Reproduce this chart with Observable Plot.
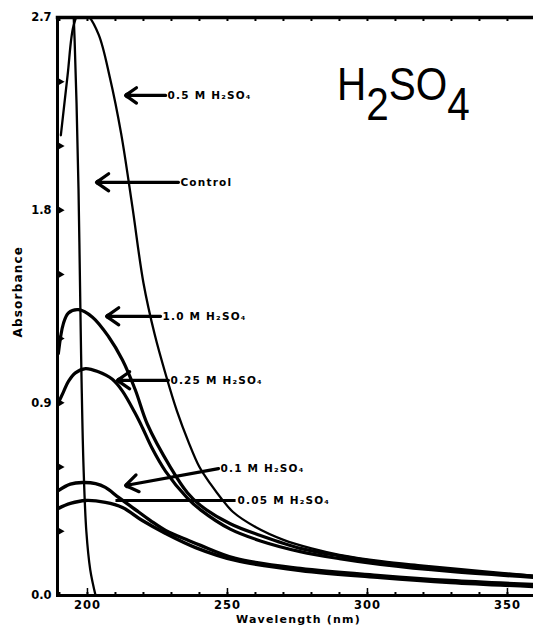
<!DOCTYPE html>
<html><head><meta charset="utf-8">
<script src="https://cdn.jsdelivr.net/npm/d3@7"></script>
<script src="https://cdn.jsdelivr.net/npm/@observablehq/plot@0.6"></script>
<style>
html,body{margin:0;padding:0;background:#fff;overflow:hidden}
#wrap{position:relative;width:533px;height:636px}
#title{position:absolute;left:337px;top:61px;font-family:"Liberation Sans",Arial,sans-serif;font-size:46px;line-height:46px;color:#000;white-space:nowrap;transform:scaleX(0.88);transform-origin:0 0}
#title .sub{position:relative;top:20px}
svg g[aria-label="text"] text{letter-spacing:1.2px}
svg g[aria-label="x-axis tick label"] text{letter-spacing:1px}
</style></head><body>
<div id="wrap"><div id="title">H<span class="sub">2</span>SO<span class="sub">4</span></div></div>
<script>
// ---- data ----
const xDomain = [189.3, 359.3];
const yDomain = [0, 2.7];
const xTickLabels = [200, 250, 300, 350];
const xMinorTicks = [190,200,210,220,230,240,250,260,270,280,290,300,310,320,330,340,350];
const yTickLabels = [0, 0.9, 1.8, 2.7];
const yMinorTicks = [0.3, 0.6, 0.9, 1.2, 1.5, 1.8, 2.1, 2.4];

const seriesNames = ["0.5 M", "Control", "1.0 M", "0.25 M", "0.1 M", "0.05 M"];

const nm_05 = [190.5, 192.9, 195.0, 197.0, 200.0, 204, 208, 212, 216, 220, 224, 228, 232, 236, 240, 244, 248, 252, 260, 270, 280, 290, 305, 320, 340, 359.3];
const abs_05 = [2.15, 2.43, 2.66, 2.72, 2.71, 2.62, 2.42, 2.16, 1.82, 1.46, 1.22, 1.03, 0.86, 0.72, 0.60, 0.52, 0.45, 0.39, 0.32, 0.26, 0.22, 0.19, 0.16, 0.14, 0.115, 0.093];

const nm_ctl = [194.6, 195.4, 196.1, 196.8, 197.4, 197.9, 198.6, 199.6, 201.0, 202.9];
const abs_ctl = [2.85, 2.6, 2.3, 1.9, 1.4, 1.0, 0.6, 0.3, 0.12, 0.0];

const nm_10 = [189.6, 191.4, 193.2, 196.8, 201.8, 207.5, 212.5, 217.1, 221.4, 229.6, 235.7, 240.4, 251, 261.8, 276, 290, 304.6, 329.6, 359.3];
const abs_10 = [1.13, 1.27, 1.32, 1.335, 1.30, 1.21, 1.10, 0.96, 0.80, 0.60, 0.48, 0.42, 0.335, 0.28, 0.22, 0.185, 0.155, 0.12, 0.09];

const nm_025 = [189.6, 191.4, 193.2, 195.7, 199.3, 203.9, 208.9, 212.5, 217.1, 219.6, 223, 227.9, 235.7, 240.4, 251, 261.8, 276, 290, 304.6, 329.6, 359.3];
const abs_025 = [0.90, 0.95, 1.00, 1.04, 1.06, 1.045, 1.01, 0.955, 0.85, 0.785, 0.69, 0.58, 0.455, 0.40, 0.31, 0.255, 0.205, 0.172, 0.145, 0.112, 0.085];

const nm_01 = [189.6, 193.9, 198.2, 202.9, 206.4, 211.1, 216.1, 222.5, 227.9, 236.1, 240.4, 252.9, 276, 304.6, 329.6, 359.3];
const abs_01 = [0.49, 0.52, 0.528, 0.523, 0.505, 0.458, 0.411, 0.35, 0.304, 0.257, 0.234, 0.173, 0.126, 0.093, 0.07, 0.051];

const nm_005 = [189.6, 193.9, 199.3, 206.4, 212.5, 219.6, 227.9, 238.6, 252.9, 276, 304.6, 329.6, 359.3];
const abs_005 = [0.407, 0.43, 0.444, 0.435, 0.411, 0.35, 0.29, 0.224, 0.164, 0.117, 0.084, 0.061, 0.042];

// label annotations
const labelText = ["0.5 M H₂SO₄", "Control", "1.0 M H₂SO₄", "0.25 M H₂SO₄", "0.1 M H₂SO₄", "0.05 M H₂SO₄"];
const labelTailX = [227.9, 232.5, 226.1, 228.9, 246.8, 252.9];
const labelTailY = [2.336, 1.93, 1.304, 1.005, 0.593, 0.444];
const labelTipX = [213.6, 203.2, 206.8, 210.7, 213.6, 210.0];
const labelTipY = [2.336, 1.93, 1.304, 1.005, 0.514, 0.444];
const labelHead = [true, true, true, true, true, false];

// ---- build tables ----
const seriesX = [nm_05, nm_ctl, nm_10, nm_025, nm_01, nm_005];
const seriesY = [abs_05, abs_ctl, abs_10, abs_025, abs_01, abs_005];
const seriesW = [2.3, 2.3, 3.2, 3.2, 3.4, 3.4];
const rows = seriesNames.map((s, i) => seriesX[i].map((x, j) => ({series: s, nm: x, abs: seriesY[i][j]})));
const labels = labelText.map((t, i) => ({t, x1: labelTailX[i], y1: labelTailY[i], x2: labelTipX[i], y2: labelTipY[i], head: labelHead[i]}));

const boldFont = "DejaVu Sans";
const chart = Plot.plot({
  width: 533,
  height: 636,
  marginLeft: 57,
  marginRight: 0,
  marginTop: 17,
  marginBottom: 41,
  style: {fontFamily: boldFont, background: "#fff", color: "#000"},
  x: {domain: xDomain, label: null},
  y: {domain: yDomain, label: null},
  marks: [
    ...rows.map((r, i) => Plot.line(r, {x: "nm", y: "abs", curve: "catmull-rom", stroke: "#000", strokeWidth: seriesW[i], clip: true})),
    Plot.arrow(labels.filter(d => d.head), {x1: "x1", y1: "y1", x2: "x2", y2: "y2", stroke: "#000", strokeWidth: 3.2, headLength: 7, headAngle: 70, bend: 0}),
    Plot.dot(labels.filter(d => d.head), {x: "x2", y: "y2", r: 2.8, dx: 2, fill: "#000", stroke: null}),
    Plot.link(labels.filter(d => !d.head), {x1: "x1", y1: "y1", x2: "x2", y2: "y2", stroke: "#000", strokeWidth: 3}),
    Plot.text(labels, {x: "x1", y: "y1", text: "t", textAnchor: "start", dx: 2, fontWeight: "bold", fontSize: 10.5, fill: "#000"}),
    Plot.frame({anchor: "left", strokeWidth: 3}),
    Plot.frame({anchor: "bottom", strokeWidth: 3}),
    Plot.frame({anchor: "top", strokeWidth: 3.5}),
    Plot.axisX({ticks: xTickLabels, tickSize: 0, tickPadding: 5, fontWeight: "bold", fontSize: 11.5, label: null, tickFormat: d3.format("d")}),
    Plot.axisX({ticks: xTickLabels, tickSize: -7, tickFormat: () => "", label: null, strokeWidth: 1.5}),
    Plot.axisX({ticks: xMinorTicks, tickSize: -3, tickFormat: () => "", label: null, strokeWidth: 2}),
    Plot.axisX({anchor: "top", ticks: xMinorTicks, tickSize: -3, tickFormat: () => "", label: null, strokeWidth: 2}),
    Plot.axisY({ticks: yTickLabels, tickSize: 0, tickPadding: 6, fontWeight: "bold", fontSize: 11.5, label: null, tickFormat: d3.format(".1f")}),
    Plot.dot(yMinorTicks, {y: d => d, frameAnchor: "left", symbol: "triangle2", rotate: 90, r: 3.4, dx: 3, fill: "#000", stroke: null}),
    Plot.text(["Absorbance"], {text: d => d, frameAnchor: "left", dx: -39, dy: 31, rotate: -90, fontWeight: "bold", fontSize: 12, fill: "#000"}),
    Plot.text(["Wavelength (nm)"], {text: d => d, frameAnchor: "bottom", dx: 3, dy: 27, fontWeight: "bold", fontSize: 11, fill: "#000"})
  ]
});
document.getElementById("wrap").prepend(chart);
</script>
</body></html>
